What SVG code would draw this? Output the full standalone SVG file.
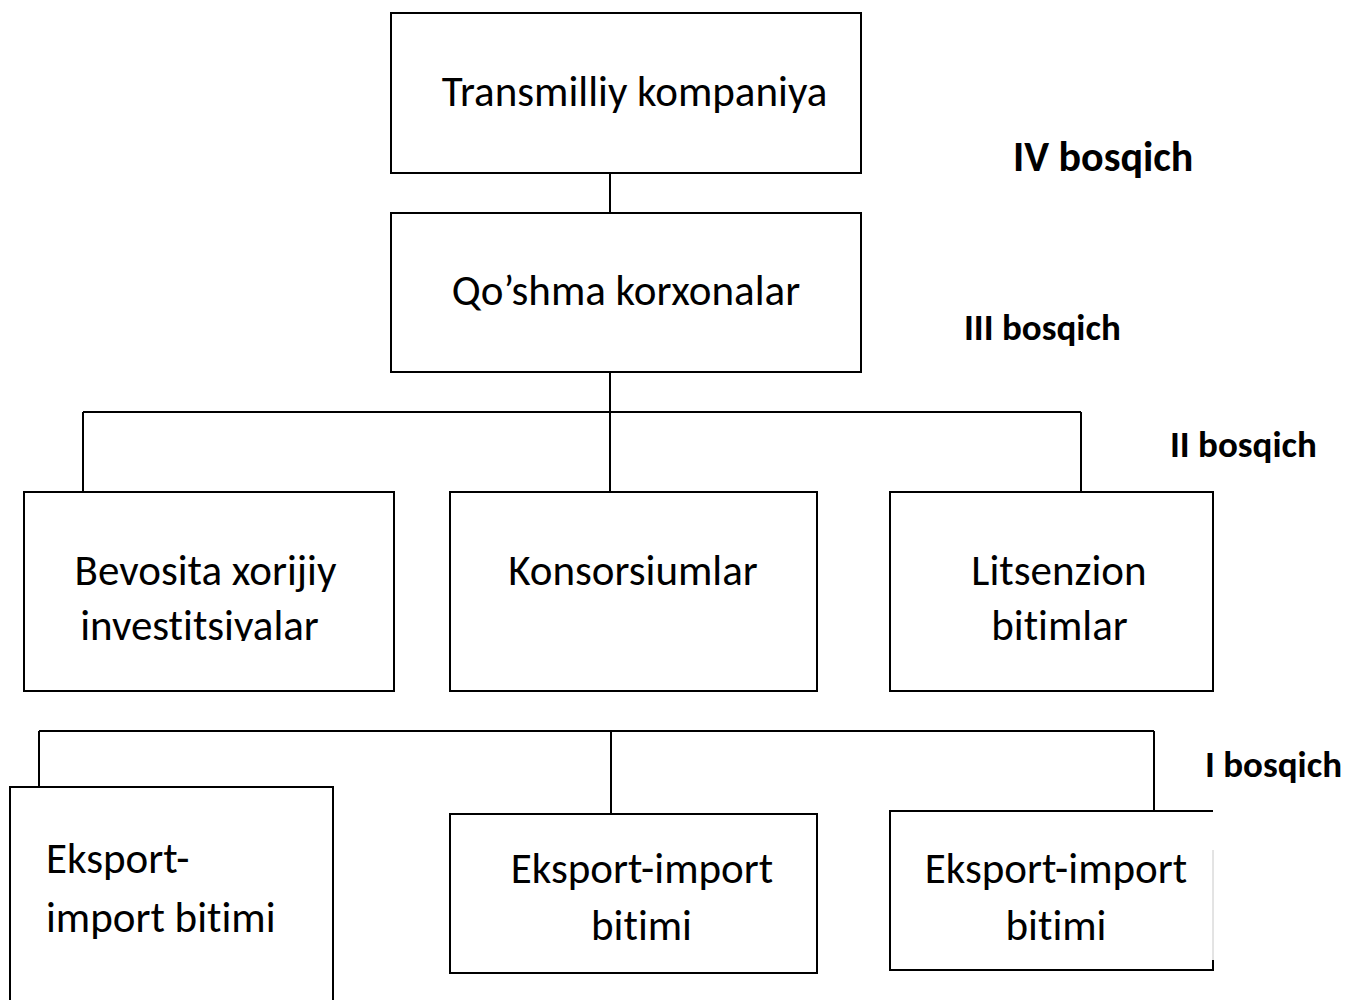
<svg xmlns="http://www.w3.org/2000/svg" width="1345" height="1000" viewBox="0 0 1345 1000">
  <style>
    .box { fill: #ffffff; stroke: #000000; stroke-width: 2; }
    .edge { fill: none; stroke: #000000; stroke-width: 2; }
    .lbl { font-family: Carlito, Lato, "Open Sans", sans-serif; font-size: 43px; fill: #000000; font-variant-ligatures: none; }
    .mid { text-anchor: middle; }
    .stage { font-family: Carlito, Lato, "Open Sans", sans-serif; font-weight: bold; fill: #000000; font-variant-ligatures: none; }
  </style>
  <defs>
    <clipPath id="row2clip">
      <rect x="0" y="480" width="1345" height="161"/>
    </clipPath>
  </defs>
  <rect width="1345" height="1000" fill="#ffffff"/>

  <!-- connectors -->
  <g id="connectors">
    <line class="edge" x1="610" y1="165" x2="610" y2="213"/>
    <line class="edge" x1="610" y1="372" x2="610" y2="492"/>
    <line class="edge" x1="83" y1="412" x2="1081" y2="412"/>
    <line class="edge" x1="83" y1="412" x2="83" y2="492"/>
    <line class="edge" x1="1081" y1="412" x2="1081" y2="492"/>
    <line class="edge" x1="39" y1="731" x2="1154" y2="731"/>
    <line class="edge" x1="39" y1="731" x2="39" y2="787"/>
    <line class="edge" x1="611" y1="731" x2="611" y2="813"/>
    <line class="edge" x1="1154" y1="731" x2="1154" y2="811"/>
  </g>

  <!-- level IV -->
  <g id="transmilliy">
    <rect class="box" x="391" y="13" width="470" height="160"/>
    <text class="lbl mid" x="634.5" y="106">Transmilliy kompaniya</text>
  </g>

  <!-- level III -->
  <g id="qoshma">
    <rect class="box" x="391" y="213" width="470" height="159"/>
    <text class="lbl mid" x="626" y="305">Qo’shma korxonalar</text>
  </g>

  <!-- level II -->
  <g id="bevosita">
    <rect class="box" x="24" y="492" width="370" height="199"/>
    <text class="lbl mid" x="205.5" y="585">Bevosita xorijiy</text>
    <text class="lbl mid" x="199.5" y="640" clip-path="url(#row2clip)">investitsiyalar</text>
  </g>
  <g id="konsorsium">
    <rect class="box" x="450" y="492" width="367" height="199"/>
    <text class="lbl mid" x="633" y="585">Konsorsiumlar</text>
  </g>
  <g id="litsenzion">
    <rect class="box" x="890" y="492" width="323" height="199"/>
    <text class="lbl mid" x="1059" y="585">Litsenzion</text>
    <text class="lbl mid" x="1059.5" y="640" clip-path="url(#row2clip)">bitimlar</text>
  </g>

  <!-- level I -->
  <g id="eksport1">
    <rect class="box" x="10" y="787" width="323" height="230"/>
    <text class="lbl" x="46" y="873">Eksport-</text>
    <text class="lbl" x="46" y="932">import bitimi</text>
  </g>
  <g id="eksport2">
    <rect class="box" x="450" y="814" width="367" height="159"/>
    <text class="lbl mid" x="642" y="883">Eksport-import</text>
    <text class="lbl mid" x="641.5" y="940">bitimi</text>
  </g>
  <g id="eksport3">
    <path class="edge" d="M1213 811 H890 V970 H1213 V960"/>
    <line x1="1213" y1="850" x2="1213" y2="960" stroke="#c8c8c8" stroke-width="1"/>
    <text class="lbl mid" x="1056" y="883">Eksport-import</text>
    <text class="lbl mid" x="1056" y="940">bitimi</text>
  </g>

  <!-- stage labels -->
  <g id="stages">
    <text class="stage" x="1013" y="171" font-size="42">IV bosqich</text>
    <text class="stage" x="964" y="340" font-size="37">III bosqich</text>
    <text class="stage" x="1170" y="457" font-size="37">II bosqich</text>
    <text class="stage" x="1205" y="777" font-size="37">I bosqich</text>
  </g>
</svg>
